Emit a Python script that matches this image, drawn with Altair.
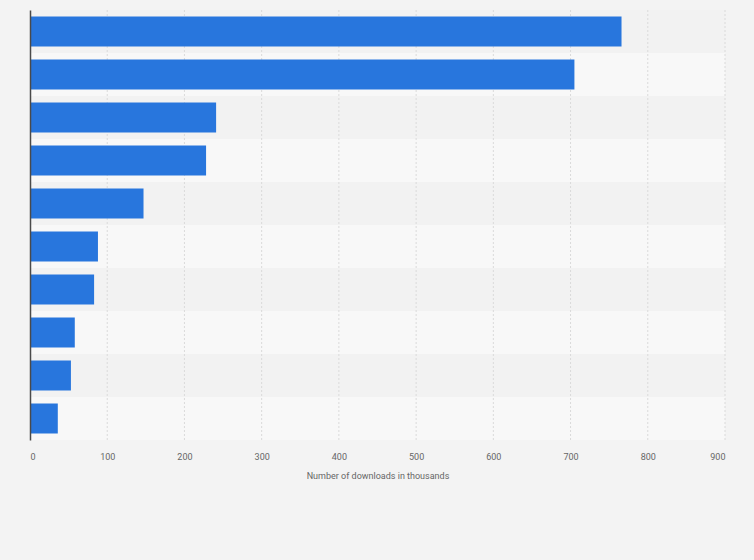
import altair as alt
import pandas as pd

categories = ["App 1", "App 2", "App 3", "App 4", "App 5", "App 6", "App 7", "App 8", "App 9", "App 10"]
downloads = [766, 705, 241, 228, 147, 88, 83, 58, 53, 36]
x_ticks = [0, 100, 200, 300, 400, 500, 600, 700, 800, 900]

df = pd.DataFrame({"category": categories, "downloads": downloads})
df["stripe"] = ["dark" if i % 2 == 0 else "light" for i in range(len(categories))]
df["x0"] = 0
df["x1"] = 900
grid_df = pd.DataFrame({"tick": x_ticks[1:]})

yscale = alt.Scale(domain=categories, paddingInner=0, paddingOuter=0)
xscale = alt.Scale(domain=[0, 900], nice=False)

stripes = alt.Chart(df).mark_rect().encode(
    y=alt.Y("category:N", sort=categories, scale=yscale,
            axis=alt.Axis(labels=False, ticks=False, title=None, domain=True,
                          domainColor="#4a4a4a", domainWidth=1.5, grid=False)),
    x=alt.X("x0:Q", scale=xscale),
    x2="x1:Q",
    color=alt.Color("stripe:N", scale=alt.Scale(domain=["dark", "light"], range=["#f2f2f2", "#f8f8f8"]), legend=None),
)

grid = alt.Chart(grid_df).mark_rule(color="#dadada", strokeDash=[2, 2], strokeWidth=1).encode(
    x=alt.X("tick:Q", scale=xscale),
)

bars = alt.Chart(df).mark_bar(size=30, color="#2876dd").encode(
    y=alt.Y("category:N", sort=categories, scale=yscale),
    x=alt.X("downloads:Q", scale=xscale,
            axis=alt.Axis(values=x_ticks, title="Number of downloads in thousands",
                          grid=False, domain=False, ticks=False, labelPadding=12,
                          labelColor="#666666", labelFontSize=9, labelFont="Roboto",
                          titleColor="#666666", titleFontSize=9, titleFont="Roboto",
                          titleFontWeight="normal", titlePadding=10)),
)

chart = alt.layer(stripes, grid, bars).properties(
    width=695, height=430, background="#f3f3f3",
    padding={"left": 30, "top": 10, "right": 29, "bottom": 120},
    autosize=alt.AutoSizeParams(type="none"),
).configure_view(stroke=None)

chart.save("out.html", embed_options={"renderer": "svg", "actions": False})
